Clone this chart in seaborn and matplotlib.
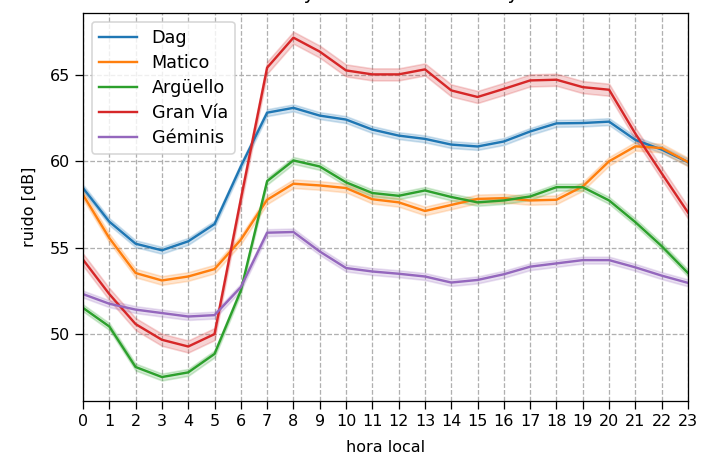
import numpy as np
import pandas as pd
import matplotlib
matplotlib.use("Agg")
import matplotlib.pyplot as plt
import seaborn as sns

# mean noise level per local hour and site (dB)
horas = list(range(24))
sitios = ["Dag", "Matico", "Argüello", "Gran Vía", "Géminis"]

dag = [58.45, 56.5, 55.22, 54.84, 55.36, 56.36, 59.7, 62.82, 63.1, 62.65,
       62.42, 61.84, 61.49, 61.3, 60.97, 60.86, 61.15, 61.73, 62.2, 62.22,
       62.3, 61.24, 60.68, 59.95]
matico = [58.06, 55.55, 53.52, 53.09, 53.32, 53.75, 55.45, 57.77, 58.7, 58.6,
          58.45, 57.8, 57.62, 57.12, 57.47, 57.82, 57.86, 57.73, 57.77, 58.54,
          60.0, 60.87, 60.77, 59.96]
arguello = [51.5, 50.42, 48.07, 47.49, 47.76, 48.83, 52.5, 58.85, 60.05, 59.7,
            58.78, 58.16, 58.0, 58.31, 57.93, 57.62, 57.73, 57.96, 58.5, 58.5,
            57.73, 56.47, 55.08, 53.52]
gran_via = [54.3, 52.3, 50.56, 49.65, 49.26, 49.98, 57.8, 65.43, 67.17, 66.36,
            65.27, 65.04, 65.04, 65.33, 64.11, 63.73, 64.2, 64.69, 64.73, 64.3,
            64.15, 61.6, 59.3, 57.03]
geminis = [52.3, 51.74, 51.4, 51.2, 51.0, 51.08, 52.7, 55.86, 55.9, 54.77,
           53.81, 53.61, 53.48, 53.32, 52.97, 53.12, 53.45, 53.89, 54.08, 54.27,
           54.27, 53.85, 53.37, 52.95]

# half-width of the confidence band for each site (dB)
semiancho = [0.2, 0.25, 0.2, 0.35, 0.2]

medias = [dag, matico, arguello, gran_via, geminis]

# two rows per point (mean +/- half-width) so seaborn draws the band
rows = []
for sitio, valores, h in zip(sitios, medias, semiancho):
    for hora, v in zip(horas, valores):
        rows.append({"hora": hora, "sitio": sitio, "ruido": v - h})
        rows.append({"hora": hora, "sitio": sitio, "ruido": v + h})
df = pd.DataFrame(rows)

plt.rcParams["font.size"] = 10
fig = plt.figure(figsize=(702 / 115, 453 / 115), dpi=115)
ax = fig.add_axes([83 / 702, 52 / 453, (688 - 83) / 702, (401 - 13) / 453])

sns.lineplot(data=df, x="hora", y="ruido", hue="sitio", hue_order=sitios,
             palette=sns.color_palette("tab10", 5), errorbar=("pi", 100),
             linewidth=1.5, ax=ax)

ax.set_xlim(0, 23)
ax.set_ylim(46.1, 68.6)
ax.set_xticks(horas)
ax.set_yticks([50, 55, 60, 65])
ax.tick_params(length=4.8)
ax.grid(True, linestyle="--", color="#b0b0b0", linewidth=0.8)
ax.set_axisbelow(True)
ax.set_xlabel("hora local", labelpad=7)
ax.set_ylabel("ruido [dB]", labelpad=8)
ax.set_title("Ruido horario medio y variación del lunes y de los sábados",
             fontsize=12, pad=9)
sns.move_legend(ax, "upper left", title=None, fontsize=11, labelspacing=0.4,
                handlelength=2.2, handletextpad=0.8)

fig.savefig("out.png", dpi=115)
